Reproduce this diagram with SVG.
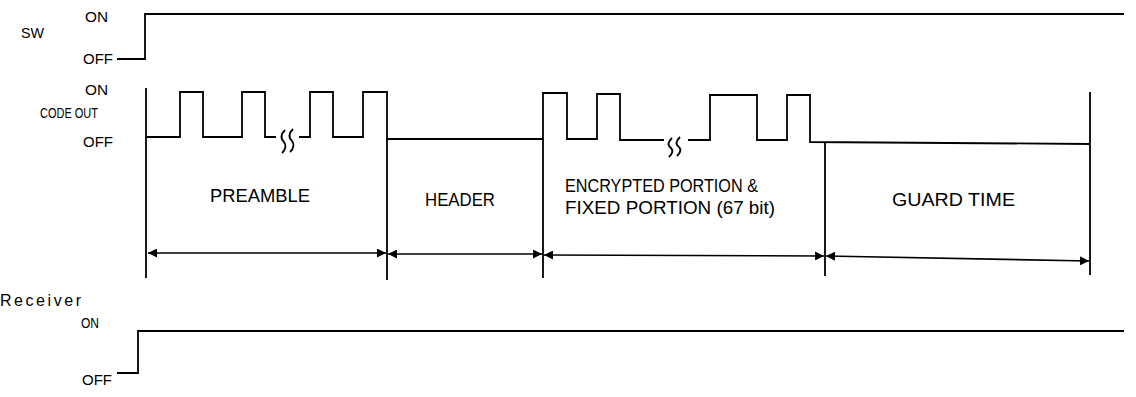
<svg xmlns="http://www.w3.org/2000/svg" width="1136" height="397" viewBox="0 0 1136 397">
<style>
.w{fill:none;stroke:#000;stroke-width:1.8;stroke-linejoin:miter}
.t{font-family:"Liberation Sans",Arial,sans-serif;fill:#000}
.s{font-size:15px}
.b{font-size:19px}
.dim{fill:none;stroke:#000;stroke-width:1.6}
</style>
<defs>
<marker id="ah" viewBox="0 0 10 10" refX="10" refY="5" markerWidth="10" markerHeight="9" markerUnits="userSpaceOnUse" orient="auto-start-reverse">
<path d="M0 0 L10 5 L0 10 Z" fill="#000"/>
</marker>
</defs>
<rect width="1136" height="397" fill="#fff"/>

<g id="sw">
<text class="t s" x="21" y="38" textLength="23" lengthAdjust="spacingAndGlyphs">SW</text>
<text class="t s" x="85" y="22" textLength="23" lengthAdjust="spacingAndGlyphs">ON</text>
<text class="t s" x="83" y="64" textLength="30" lengthAdjust="spacingAndGlyphs">OFF</text>
<path class="w" d="M117 59 H145 V14 H1124"/>
</g>

<g id="code-out">
<text class="t s" x="85" y="95" textLength="23" lengthAdjust="spacingAndGlyphs">ON</text>
<text class="t s" x="40" y="118" textLength="58" lengthAdjust="spacingAndGlyphs">CODE OUT</text>
<text class="t s" x="83" y="147" textLength="30" lengthAdjust="spacingAndGlyphs">OFF</text>
<path class="w" d="M146 137 H180 V92 H203 V137 H242 V92 H265 V137 H276"/>
<path class="w" d="M299 137 H310 V92 H333 V137 H363 V92 H387 V139 H543 V93 H567 V139 H597 V94 H620 V140 H664"/>
<path class="w" d="M688 140 H710 V95 H757 V140 H787 V95 H810 V142 L1090 144"/>
<path class="w" d="M285 130 C281 134 280 138 284 142 C287 146 285 150 282 153"/>
<path class="w" d="M293 129 C289 133 288 137 292 141 C295 145 293 149 290 152"/>
<path class="w" d="M672 138 C668 142 667 145 671 148 C674 151 672 154 669 157"/>
<path class="w" d="M680 137 C676 141 675 144 679 147 C682 150 680 153 677 156"/>
</g>

<g id="dividers">
<path class="w" d="M146 88 V278"/>
<path class="w" d="M387 139 V280"/>
<path class="w" d="M543 139 V278"/>
<path class="w" d="M825 142 V276"/>
<path class="w" d="M1090 92 V275"/>
</g>

<g id="preamble">
<text class="t b" x="210" y="202" textLength="100" lengthAdjust="spacingAndGlyphs">PREAMBLE</text>
</g>
<g id="header">
<text class="t b" x="425" y="206" textLength="70" lengthAdjust="spacingAndGlyphs">HEADER</text>
</g>
<g id="encrypted">
<text class="t b" x="565" y="192" textLength="193" lengthAdjust="spacingAndGlyphs">ENCRYPTED PORTION &amp;</text>
<text class="t b" x="565" y="214" textLength="210" lengthAdjust="spacingAndGlyphs">FIXED PORTION (67 bit)</text>
</g>
<g id="guard-time">
<text class="t b" x="892" y="206" textLength="123" lengthAdjust="spacingAndGlyphs">GUARD TIME</text>
</g>

<g id="connectors">
<line class="dim" x1="148" y1="253" x2="386" y2="253" marker-start="url(#ah)" marker-end="url(#ah)"/>
<line class="dim" x1="388" y1="254" x2="542" y2="254" marker-start="url(#ah)" marker-end="url(#ah)"/>
<line class="dim" x1="544" y1="255" x2="824" y2="256" marker-start="url(#ah)" marker-end="url(#ah)"/>
<line class="dim" x1="826" y1="256" x2="1089" y2="261" marker-start="url(#ah)" marker-end="url(#ah)"/>
</g>

<g id="receiver">
<text class="t" style="font-size:16px;letter-spacing:2px" x="0" y="306" textLength="83" lengthAdjust="spacing">Receiver</text>
<text class="t s" x="81" y="328" textLength="18" lengthAdjust="spacingAndGlyphs">ON</text>
<text class="t s" x="82" y="385" textLength="30" lengthAdjust="spacingAndGlyphs">OFF</text>
<path class="w" d="M117 373 H138 V331 H1124"/>
</g>
</svg>
